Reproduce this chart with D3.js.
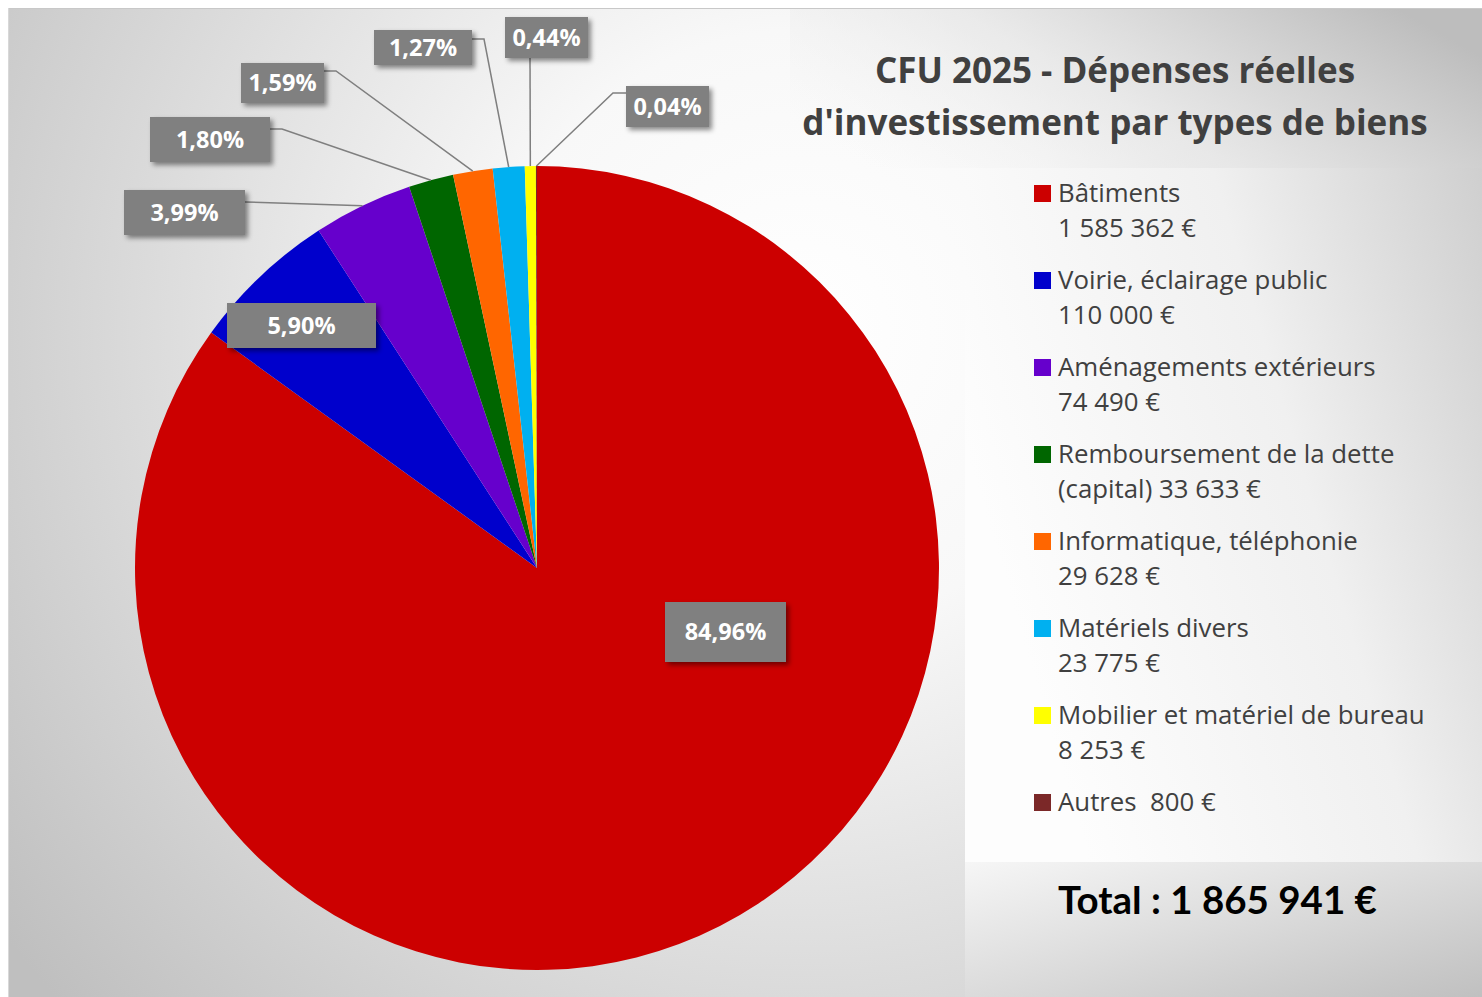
<!DOCTYPE html>
<html><head><meta charset="utf-8">
<script src="https://cdn.jsdelivr.net/npm/d3@7"></script>
<style>html,body{margin:0;padding:0;background:#fff;overflow:hidden}svg{display:block}text{white-space:pre}</style>
</head><body><svg id="c" width="1482" height="997"></svg>
<script>
// ---- data ----
const categories = ["Bâtiments","Voirie, éclairage public","Aménagements extérieurs","Remboursement de la dette","Informatique, téléphonie","Matériels divers","Mobilier et matériel de bureau","Autres"];
const amounts = [1585362,110000,74490,33633,29628,23775,8253,800];
const legendLine1 = ["Bâtiments","Voirie, éclairage public","Aménagements extérieurs","Remboursement de la dette","Informatique, téléphonie","Matériels divers","Mobilier et matériel de bureau","Autres  800 €"];
const legendLine2 = ["1 585 362 €","110 000 €","74 490 €","(capital) 33 633 €","29 628 €","23 775 €","8 253 €",null];
const percentLabels = ["84,96%","5,90%","3,99%","1,80%","1,59%","1,27%","0,44%","0,04%"];
const colors = ["#cc0000","#0000cc","#6600cc","#006600","#ff6600","#00b0f0","#ffff00","#7b2828"];
const titleLines = ["CFU 2025 - Dépenses réelles","d'investissement par types de biens"];
const totalText = "Total : 1 865 941 €";

// ---- layout (label boxes and leader anchor/elbow points) ----
const labelBoxes = [
  {x:665,y:602,w:121,h:60, inside:true},
  {x:227,y:303,w:149,h:45, inside:true},
  {x:124,y:190,w:121,h:45, anchor:[245,202]},
  {x:150,y:117,w:120,h:45, anchor:[270,129], elbow:[282,129]},
  {x:241,y:63,w:83,h:40, anchor:[324,71], elbow:[336,71]},
  {x:374,y:30,w:98,h:35, anchor:[472,39], elbow:[484,39]},
  {x:505,y:17,w:83,h:41, anchor:[530,58]},
  {x:626,y:86,w:83,h:41, anchor:[627,93], elbow:[613,93]}
];
const cx = 537, cy = 568, R = 402;
const FONT = "'Open Sans', Lato, sans-serif";

const svg = d3.select("#c");
const defs = svg.append("defs");
const bg = defs.append("radialGradient").attr("id","bg").attr("gradientUnits","userSpaceOnUse")
  .attr("cx",800).attr("cy",330).attr("r",1000);
bg.append("stop").attr("offset","0").attr("stop-color","#ffffff");
bg.append("stop").attr("offset","0.3").attr("stop-color","#f8f8f8");
bg.append("stop").attr("offset","1").attr("stop-color","#bfbfbf");
const lg = defs.append("linearGradient").attr("id","lg").attr("x1","0").attr("y1","0.4").attr("x2","1").attr("y2","0");
lg.append("stop").attr("offset","0").attr("stop-color","#fdfdfd");
lg.append("stop").attr("offset","0.55").attr("stop-color","#f0f0f0");
lg.append("stop").attr("offset","1").attr("stop-color","#cfcfcf");
const tg = defs.append("linearGradient").attr("id","tg").attr("x1","0").attr("y1","0.7").attr("x2","1").attr("y2","0.3");
tg.append("stop").attr("offset","0").attr("stop-color","#f0f0f0").attr("stop-opacity",0);
tg.append("stop").attr("offset","0.45").attr("stop-color","#e6e6e6").attr("stop-opacity",0.7);
tg.append("stop").attr("offset","1").attr("stop-color","#bdbdbd");
const totg = defs.append("linearGradient").attr("id","totg").attr("x1","0").attr("y1","0").attr("x2","1").attr("y2","1");
totg.append("stop").attr("offset","0").attr("stop-color","#f6f6f6");
totg.append("stop").attr("offset","1").attr("stop-color","#c0c0c0");
const sh = defs.append("filter").attr("id","sh").attr("x","-20%").attr("y","-20%").attr("width","150%").attr("height","160%");
sh.append("feDropShadow").attr("dx",3).attr("dy",3).attr("stdDeviation",2.5).attr("flood-color","#000").attr("flood-opacity",0.45);

svg.append("rect").attr("x",8).attr("y",8).attr("width",1474).attr("height",989).attr("fill","url(#bg)");
svg.append("line").attr("x1",8).attr("x2",1482).attr("y1",8.5).attr("y2",8.5).attr("stroke","#c8c8c8");
svg.append("line").attr("x1",8.5).attr("x2",8.5).attr("y1",8).attr("y2",997).attr("stroke","#d8d8d8");
svg.append("rect").attr("x",790).attr("y",9).attr("width",692).attr("height",159).attr("fill","url(#tg)");
svg.append("rect").attr("x",965).attr("y",168).attr("width",517).attr("height",694).attr("fill","url(#lg)");
svg.append("rect").attr("x",965).attr("y",862).attr("width",517).attr("height",135).attr("fill","url(#totg)");

// ---- pie ----
const pie = d3.pie().sort(null).value(d=>d)(amounts);
const arc = d3.arc().innerRadius(0).outerRadius(R);
const g = svg.append("g").attr("transform",`translate(${cx},${cy})`);
g.selectAll("path").data(pie).join("path").attr("d",arc).attr("fill",(d,i)=>colors[i]);

// ---- labels ----
const lab = svg.append("g");
pie.forEach((d,i)=>{
  const b = labelBoxes[i];
  if(!b.inside){
    const a = (d.startAngle+d.endAngle)/2;
    const px = cx + R*Math.sin(a), py = cy - R*Math.cos(a);
    const pts = [b.anchor];
    if(b.elbow) pts.push(b.elbow);
    pts.push([px,py]);
    lab.append("path").attr("d",d3.line()(pts)).attr("fill","none").attr("stroke","#7f7f7f").attr("stroke-width",1.5);
  }
});
pie.forEach((d,i)=>{
  const b = labelBoxes[i];
  lab.append("rect").attr("x",b.x).attr("y",b.y).attr("width",b.w).attr("height",b.h).attr("fill","#808080").attr("filter","url(#sh)");
  lab.append("text").attr("x",b.x+b.w/2).attr("y",b.y+b.h/2).attr("dy","0.36em").attr("text-anchor","middle")
    .attr("fill","#fff").attr("font-family",FONT).attr("font-weight","bold").attr("font-size",23.5)
    .text(percentLabels[i]);
});

// ---- title ----
svg.append("g").selectAll("text").data(titleLines).join("text")
  .attr("x",1115).attr("y",(d,i)=>83+i*52).attr("text-anchor","middle")
  .attr("font-family",FONT).attr("font-weight","bold").attr("font-size",35).attr("fill","#404040").text(d=>d);

// ---- legend ----
const lgG = svg.append("g").attr("font-family",FONT).attr("font-size",25.8).attr("fill","#404040");
categories.forEach((c,i)=>{
  const y0 = 185 + i*87;
  lgG.append("rect").attr("x",1034).attr("y",y0).attr("width",17).attr("height",17).attr("fill",colors[i]);
  lgG.append("text").attr("x",1058).attr("y",y0+17).text(legendLine1[i]);
  if(legendLine2[i]) lgG.append("text").attr("x",1058).attr("y",y0+52).text(legendLine2[i]);
});

svg.append("text").attr("x",1058).attr("y",914).attr("font-family","Lato, 'Open Sans', sans-serif").attr("font-weight","bold")
  .attr("font-size",38.5).attr("fill","#000").text(totalText);
</script></body></html>
